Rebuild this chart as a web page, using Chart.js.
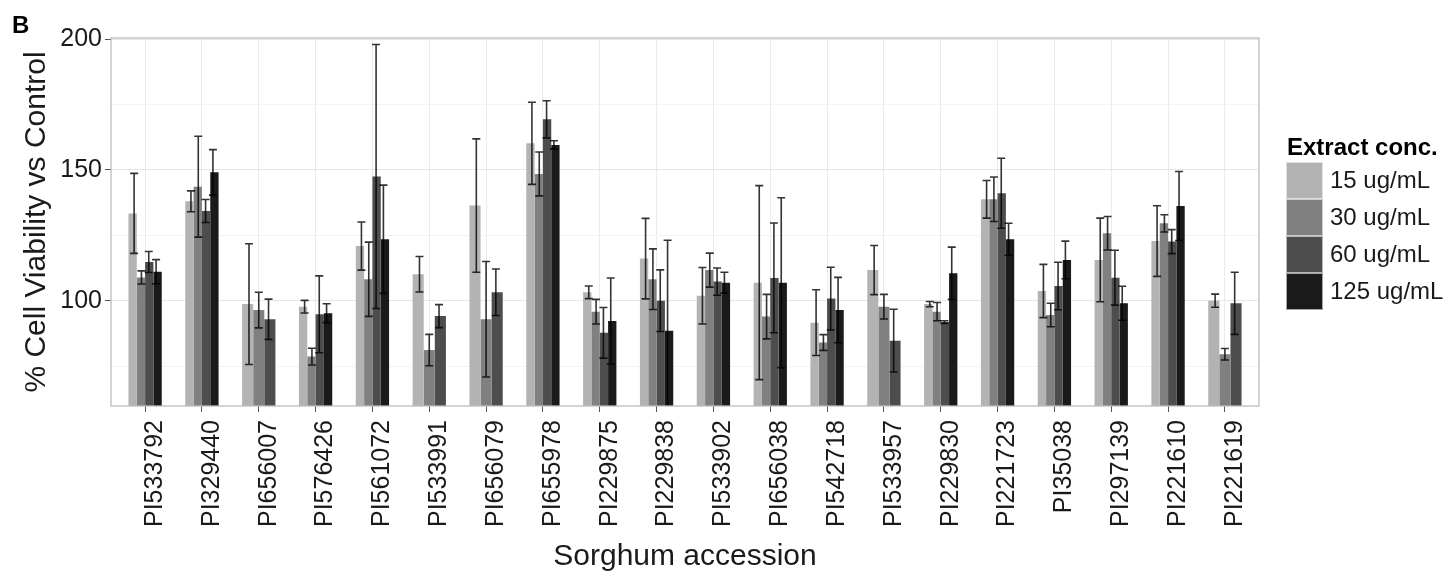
<!DOCTYPE html>
<html>
<head>
<meta charset="utf-8">
<script src="https://cdn.jsdelivr.net/npm/chart.js@4.4.1/dist/chart.umd.min.js"></script>
<style>
  html, body { margin: 0; padding: 0; background: #fff; }
  #wrap { width: 1453px; height: 576px; position: relative; }
</style>
</head>
<body>
<div id="wrap"><canvas id="viability"></canvas></div>
<script>
// Sorghum accessions on the x axis
const accessions = ['PI533792', 'PI329440', 'PI656007', 'PI576426', 'PI561072', 'PI533991', 'PI656079',
  'PI655978', 'PI229875', 'PI229838', 'PI533902', 'PI656038', 'PI542718', 'PI533957', 'PI229830',
  'PI221723', 'PI35038', 'PI297139', 'PI221610', 'PI221619'];

const concLabels = ['15 ug/mL', '30 ug/mL', '60 ug/mL', '125 ug/mL'];
const concColors = ['#b3b3b3', '#808080', '#4d4d4d', '#1a1a1a'];

// mean % viability per extract concentration (null = not tested)
const mean15 = [133.4, 138.0, 98.7, 97.7, 120.9, 110.1, 136.4, 160.2, 103.2, 116.1, 101.9, 106.9, 91.6, 111.7, 98.7, 138.8, 103.7, 115.6, 122.8, 100.0];
const mean30 = [108.9, 143.6, 96.4, 78.6, 108.2, 81.1, 92.9, 148.5, 95.8, 108.2, 111.7, 93.9, 84.0, 97.7, 95.8, 138.8, 94.5, 125.8, 129.6, 79.5];
const mean60 = [114.8, 134.3, 92.9, 94.8, 147.5, 94.1, 103.2, 169.4, 87.7, 100.0, 107.3, 108.7, 100.8, 84.7, 91.8, 141.1, 105.6, 108.8, 122.6, 99.0];
const mean125 = [111.1, 149.1, null, 95.2, 123.5, null, null, 159.6, 92.2, 88.5, 106.9, 106.9, 96.4, null, 110.5, 123.5, 115.6, 99.0, 136.2, null];

// standard deviations for the error bars
const sd15 = [15.3, 4.0, 23.1, 2.4, 9.2, 6.8, 25.5, 15.7, 2.4, 15.4, 10.8, 37.1, 12.6, 9.4, 1.0, 7.2, 10.2, 16.0, 13.5, 2.5];
const sd30 = [2.5, 19.3, 6.8, 3.2, 14.2, 6.0, 22.1, 8.4, 4.7, 11.6, 6.5, 8.5, 3.0, 4.7, 3.5, 8.5, 4.5, 6.4, 3.3, 2.2];
const sd60 = [4.0, 4.4, 7.7, 14.7, 50.5, 4.4, 8.9, 7.1, 9.7, 11.8, 5.2, 21.0, 12.0, 12.0, 0.5, 13.4, 9.1, 10.5, 4.6, 11.9];
const sd125 = [4.6, 8.7, null, 3.6, 20.7, null, null, 1.6, 16.5, 34.6, 4.0, 32.5, 12.5, null, 10.0, 6.1, 7.2, 6.5, 13.2, null];

const yTicks = [75, 100, 125, 150, 175, 200];
const yMajor = [100, 150, 200];

const means = [mean15, mean30, mean60, mean125];
const sds = [sd15, sd30, sd60, sd125];

const fontFamily = '"Liberation Sans", Arial, Helvetica, sans-serif';
const textColor = '#1a1a1a';

const datasets = means.map((vals, d) => ({
  label: concLabels[d],
  data: vals.map((v, i) => ({ x: i, y: v })),
  backgroundColor: concColors[d],
  borderWidth: 0,
  categoryPercentage: 0.586,
  barPercentage: 1.0,
  skipNull: true
}));

// mean +/- sd whiskers, dodged a little narrower than the bars
const errorBars = {
  id: 'errorBars',
  afterDatasetsDraw(chart) {
    const { ctx, chartArea: a } = chart;
    const xs = chart.scales.x, ys = chart.scales.y;
    ctx.save();
    ctx.beginPath();
    ctx.rect(a.left, a.top, a.right - a.left, a.bottom - a.top);
    ctx.clip();
    ctx.strokeStyle = 'rgba(0,0,0,0.8)';
    ctx.lineWidth = 1.6;
    const cap = 4;
    means.forEach((vals, d) => {
      const meta = chart.getDatasetMeta(d);
      meta.data.forEach((bar, i) => {
        const m = vals[i], s = sds[d][i];
        if (m == null || s == null) return;
        const mid = xs.getPixelForValue(i);
        const x = mid + (bar.x - mid) * 0.88;
        const top = ys.getPixelForValue(m + s);
        const bot = ys.getPixelForValue(m - s);
        ctx.beginPath();
        ctx.moveTo(x, top); ctx.lineTo(x, bot);
        ctx.moveTo(x - cap, top); ctx.lineTo(x + cap, top);
        ctx.moveTo(x - cap, bot); ctx.lineTo(x + cap, bot);
        ctx.stroke();
      });
    });
    ctx.restore();
  }
};

// panel frame, legend and panel letter
const decorations = {
  id: 'decorations',
  afterDraw(chart) {
    const { ctx, chartArea: a } = chart;
    ctx.save();
    ctx.strokeStyle = '#bdbdbd';
    ctx.lineWidth = 1.3;
    ctx.strokeRect(a.left, a.top, a.right - a.left, a.bottom - a.top);

    ctx.fillStyle = '#000';
    ctx.font = 'bold 24px ' + fontFamily;
    ctx.textBaseline = 'alphabetic';
    ctx.textAlign = 'left';
    ctx.fillText('B', 12, 33);

    ctx.font = 'bold 24px ' + fontFamily;
    ctx.fillText('Extract conc.', 1287, 155);

    const kx = 1286, ky = 162, ks = 37;
    ctx.font = '24px ' + fontFamily;
    ctx.textBaseline = 'middle';
    concLabels.forEach((lab, k) => {
      ctx.fillStyle = concColors[k];
      ctx.fillRect(kx, ky + k * ks, ks, ks);
      ctx.strokeStyle = 'rgba(255,255,255,0.6)';
      ctx.lineWidth = 1;
      ctx.strokeRect(kx + 0.5, ky + k * ks + 0.5, ks - 1, ks - 1);
      ctx.fillStyle = textColor;
      ctx.fillText(lab, 1330, ky + k * ks + ks / 2 + 1);
    });
    ctx.restore();
  }
};

new Chart(document.getElementById('viability'), {
  type: 'bar',
  data: { datasets },
  plugins: [errorBars, decorations],
  options: {
    responsive: true,
    maintainAspectRatio: false,
    animation: false,
    layout: { padding: { left: 0, right: 194, top: 38, bottom: 0 } },
    plugins: {
      legend: { display: false },
      tooltip: { enabled: false }
    },
    scales: {
      x: {
        type: 'linear',
        min: -0.6,
        max: 19.6,
        offset: false,
        afterBuildTicks: s => { s.ticks = accessions.map((c, i) => ({ value: i })); },
        afterFit: s => { s.height = 170; },
        border: { display: false },
        grid: { offset: false, color: '#ebebeb', lineWidth: 1, tickLength: 6, tickColor: '#555' },
        ticks: {
          autoSkip: false,
          minRotation: 90,
          maxRotation: 90,
          padding: 8,
          labelOffset: 10,
          color: textColor,
          font: { family: fontFamily, size: 25 },
          callback: v => accessions[v]
        },
        title: {
          display: true,
          text: 'Sorghum accession',
          color: textColor,
          font: { family: fontFamily, size: 30 },
          padding: { top: 0, bottom: 1 }
        }
      },
      y: {
        min: 59.7,
        max: 200.5,
        afterBuildTicks: s => { s.ticks = yTicks.map(v => ({ value: v })); },
        afterFit: s => { s.width = 111; },
        border: { display: false },
        grid: {
          color: c => yMajor.includes(c.tick.value) ? '#e6e6e6' : '#f3f3f3',
          lineWidth: 1,
          tickLength: 6,
          tickColor: c => yMajor.includes(c.tick.value) ? '#555' : 'rgba(0,0,0,0)'
        },
        ticks: {
          padding: 3,
          color: textColor,
          font: { family: fontFamily, size: 25 },
          callback: v => yMajor.includes(v) ? String(v) : ''
        },
        title: {
          display: true,
          text: '% Cell Viability vs Control',
          color: textColor,
          font: { family: fontFamily, size: 30 },
          padding: { top: 19, bottom: 0 }
        }
      }
    }
  }
});
</script>
</body>
</html>
